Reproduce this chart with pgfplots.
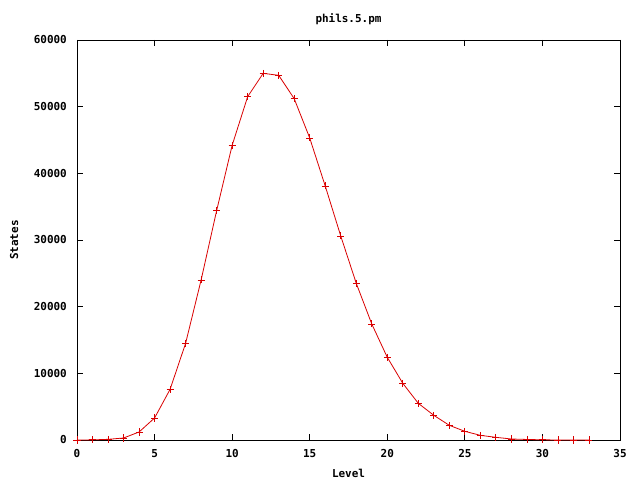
\documentclass[border=0pt]{standalone}
\usepackage{pgfplots}
\pgfplotsset{compat=1.18}
\usepackage{fontspec}
\setmonofont{DejaVu Sans Mono}
\newcommand{\gfont}{\ttfamily\bfseries\fontsize{11}{12}\selectfont}
\begin{document}
\begin{tikzpicture}
\path[use as bounding box] (0,0) rectangle (640bp,480bp);
\begin{axis}[
  at={(77bp,40bp)}, anchor=south west,
  scale only axis, width=543bp, height=400bp,
  xmin=0, xmax=35, ymin=0, ymax=60000,
  xtick={0,5,...,35}, ytick={0,10000,...,60000},
  scaled y ticks=false,
  /pgf/number format/set thousands separator={},
  /pgf/number format/assume math mode=true,
  tick label style={font=\gfont},
  xticklabel style={inner sep=0pt, anchor=north, yshift=-9bp},
  yticklabel style={inner sep=0pt, anchor=east, xshift=-10bp},
  label style={font=\gfont},
  title style={font=\gfont, at={(axis description cs:0.5,1.037)}, anchor=center},
  xlabel style={at={(axis description cs:0.5,-0.0825)}, anchor=center},
  ylabel style={at={(axis description cs:-0.116,0.5)}, anchor=center},
  title={phils.5.pm},
  xlabel={Level}, ylabel={States},
  major tick length=6bp,
  tick align=inside,
  axis line style={line width=0.8bp},
  every tick/.style={black, line width=0.8bp},
  clip=false,
]
\addplot[red!85!black, line width=0.8bp, mark=+, mark size=3.5bp, mark options={line width=0.8bp}] coordinates {
(0,0) (1,20) (2,100) (3,300) (4,1200) (5,3300) (6,7600) (7,14500) (8,24000) (9,34400)
(10,44200) (11,51500) (12,55000) (13,54700) (14,51200) (15,45300) (16,38100) (17,30600)
(18,23500) (19,17400) (20,12400) (21,8500) (22,5500) (23,3700) (24,2200) (25,1300)
(26,700) (27,400) (28,150) (29,80) (30,30) (31,0) (32,0) (33,0)
};
\end{axis}
\end{tikzpicture}
\end{document}
